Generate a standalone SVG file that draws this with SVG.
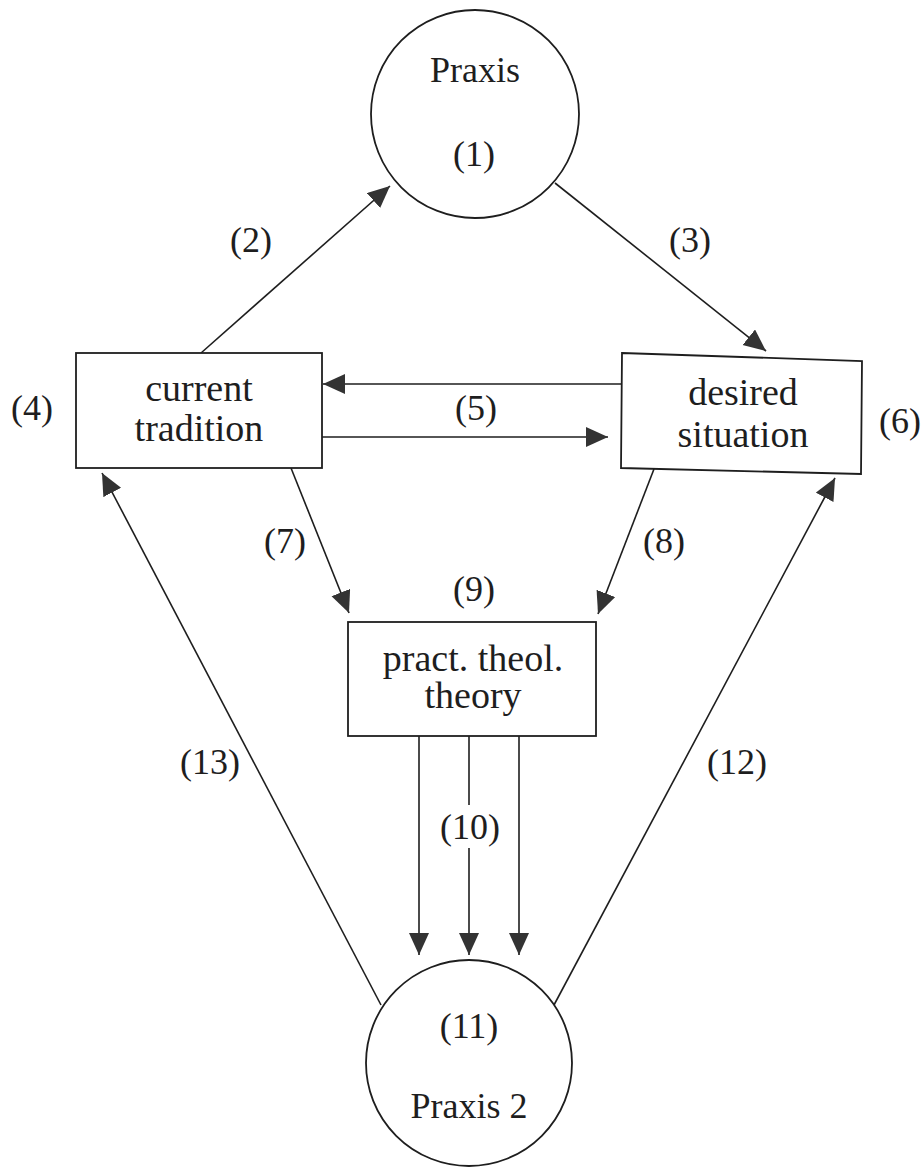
<svg xmlns="http://www.w3.org/2000/svg" width="921" height="1167" viewBox="0 0 921 1167" font-family="'Liberation Serif', 'DejaVu Serif', serif">
<defs>
<style>
.shape{fill:#fff;stroke:#1e1e1e;stroke-width:1.8}
.t{font-family:'Liberation Serif','DejaVu Serif',serif;fill:#1e1e1e;text-anchor:middle}
.big{font-size:38px}
.lab{font-size:36px}
.c{fill:none;stroke:#1e1e1e;stroke-width:1.6}
</style>
<marker id="ah" markerUnits="userSpaceOnUse" markerWidth="24" markerHeight="22" refX="22" refY="10" orient="auto">
<path d="M0,0 L22,10 L0,20 z" fill="#333"/>
</marker>
</defs>
<rect width="921" height="1167" fill="#fff"/>

<g id="connectors">
<line class="c" x1="201" y1="353" x2="390" y2="186" marker-end="url(#ah)"/>
<line class="c" x1="555" y1="183" x2="766" y2="351" marker-end="url(#ah)"/>
<line class="c" x1="622" y1="384" x2="323" y2="384" marker-end="url(#ah)"/>
<line class="c" x1="322" y1="437" x2="608" y2="437" marker-end="url(#ah)"/>
<line class="c" x1="291" y1="468" x2="349" y2="613" marker-end="url(#ah)"/>
<line class="c" x1="654" y1="469" x2="598" y2="614" marker-end="url(#ah)"/>
<line class="c" x1="419" y1="736" x2="419" y2="955" marker-end="url(#ah)"/>
<line class="c" x1="469" y1="736" x2="469" y2="805"/>
<line class="c" x1="469" y1="848" x2="469" y2="955" marker-end="url(#ah)"/>
<line class="c" x1="519" y1="736" x2="519" y2="955" marker-end="url(#ah)"/>
<line class="c" x1="381" y1="1005" x2="102" y2="473" marker-end="url(#ah)"/>
<line class="c" x1="554" y1="1005" x2="835" y2="478" marker-end="url(#ah)"/>
</g>

<g id="labels">
<text class="t lab" x="251" y="252">(2)</text>
<text class="t lab" x="690" y="252">(3)</text>
<text class="t lab" x="32" y="420">(4)</text>
<text class="t lab" x="476" y="420">(5)</text>
<text class="t lab" x="900" y="433">(6)</text>
<text class="t lab" x="285" y="553">(7)</text>
<text class="t lab" x="664" y="553">(8)</text>
<text class="t lab" x="474" y="601">(9)</text>
<text class="t lab" x="470" y="839">(10)</text>
<text class="t lab" x="737" y="774">(12)</text>
<text class="t lab" x="210" y="774">(13)</text>
</g>

<g id="praxis">
<circle class="shape" cx="475" cy="114" r="104"/>
<text class="t lab" x="475" y="82">Praxis</text>
<text class="t lab" x="474" y="166">(1)</text>
</g>

<g id="current-tradition">
<rect class="shape" x="76" y="353" width="246" height="115"/>
<text class="t big" x="199" y="401">current</text>
<text class="t big" x="199" y="441">tradition</text>
</g>

<g id="desired-situation">
<polygon class="shape" points="622,353 862,361 861,474 621,468"/>
<text class="t big" x="743" y="405">desired</text>
<text class="t big" x="743" y="447">situation</text>
</g>

<g id="theory">
<rect class="shape" x="348" y="622" width="248" height="114"/>
<text class="t big" x="473" y="671">pract. theol.</text>
<text class="t big" x="473" y="708">theory</text>
</g>

<g id="praxis2">
<circle class="shape" cx="469" cy="1063" r="103"/>
<text class="t lab" x="469" y="1038">(11)</text>
<text class="t lab" x="469" y="1118">Praxis 2</text>
</g>
</svg>
